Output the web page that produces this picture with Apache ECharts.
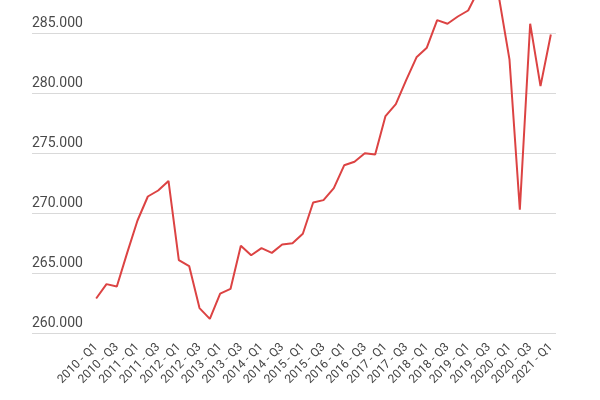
<!DOCTYPE html>
<html>
<head>
<meta charset="utf-8">
<script src="https://cdn.jsdelivr.net/npm/echarts@6/dist/echarts.min.js"></script>
<style>
  html, body { margin: 0; padding: 0; background: #fff; }
  #chart-container { width: 600px; height: 400px; }
</style>
</head>
<body>
<div id="chart-container"></div>
<script>
// quarters, 2010 Q1 .. 2021 Q1
var quarters = [
  '2010 - Q1','2010 - Q2','2010 - Q3','2010 - Q4',
  '2011 - Q1','2011 - Q2','2011 - Q3','2011 - Q4',
  '2012 - Q1','2012 - Q2','2012 - Q3','2012 - Q4',
  '2013 - Q1','2013 - Q2','2013 - Q3','2013 - Q4',
  '2014 - Q1','2014 - Q2','2014 - Q3','2014 - Q4',
  '2015 - Q1','2015 - Q2','2015 - Q3','2015 - Q4',
  '2016 - Q1','2016 - Q2','2016 - Q3','2016 - Q4',
  '2017 - Q1','2017 - Q2','2017 - Q3','2017 - Q4',
  '2018 - Q1','2018 - Q2','2018 - Q3','2018 - Q4',
  '2019 - Q1','2019 - Q2','2019 - Q3','2019 - Q4',
  '2020 - Q1','2020 - Q2','2020 - Q3','2020 - Q4',
  '2021 - Q1'
];

var values = [
  262900, 264100, 263900, 266700,
  269400, 271400, 271900, 272700,
  266100, 265600, 262100, 261200,
  263300, 263700, 267300, 266500,
  267100, 266700, 267400, 267500,
  268300, 270900, 271100, 272100,
  274000, 274300, 275000, 274900,
  278100, 279100, 281100, 283000,
  283800, 286100, 285800, 286400,
  286900, 288600, 289200, 287900,
  282800, 270300, 285800, 280600,
  284900
];

var yMin = 260000;
var yMax = 290000;
var yStep = 5000;

function fmt(v) {
  return String(v).replace(/\B(?=(\d{3})+(?!\d))/g, '.');
}

var myChart = echarts.init(document.getElementById('chart-container'));

var option = {
  animation: false,
  textStyle: { fontFamily: 'Roboto' },
  grid: [
    { left: 32, right: 44, top: -26.7, bottom: 66.7, outerBoundsMode: 'none' },
    { left: 91, right: 44, top: -26.7, bottom: 66.7, outerBoundsMode: 'none' }
  ],
  xAxis: [
    { gridIndex: 0, type: 'value', show: false },
    {
      gridIndex: 1,
      type: 'category',
      data: quarters,
      boundaryGap: true,
      axisLine: { show: false },
      axisTick: { show: false },
      axisLabel: {
        interval: 1,
        rotate: 45,
        margin: 12,
        fontSize: 12,
        color: '#444'
      }
    }
  ],
  yAxis: [
    {
      gridIndex: 0,
      type: 'value',
      min: yMin,
      max: yMax,
      interval: yStep,
      axisLine: { show: false },
      axisTick: { show: false },
      splitLine: { lineStyle: { color: '#d9d9d9', width: 1 } },
      axisLabel: {
        inside: true,
        margin: 0,
        verticalAlign: 'bottom',
        padding: [0, 0, 3, 0],
        fontSize: 14,
        color: '#4a4a4a',
        formatter: fmt
      }
    },
    {
      gridIndex: 1,
      type: 'value',
      min: yMin,
      max: yMax,
      interval: yStep,
      show: false
    }
  ],
  series: [
    {
      type: 'line',
      xAxisIndex: 1,
      yAxisIndex: 1,
      data: values,
      symbol: 'none',
      lineStyle: { color: '#dc4343', width: 2 }
    }
  ]
};

myChart.setOption(option);
</script>
</body>
</html>
